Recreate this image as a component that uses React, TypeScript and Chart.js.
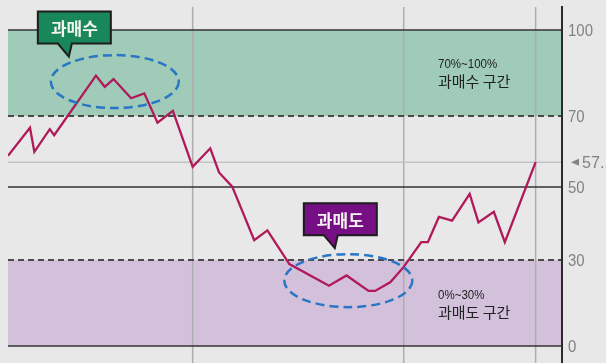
import React, { useEffect, useRef } from 'react';
import { Chart, registerables, LinearScale } from 'chart.js';

Chart.register(...registerables);

// ---------------- data ----------------
const days = [0, 5, 6, 9.5, 10.5, 20, 22, 24, 28, 31, 34, 37.5, 42, 46, 48, 51, 56, 59, 64, 73, 77, 82, 83.5, 87, 90, 94, 95.5, 98, 101, 105, 107, 110.5, 113, 120];
const rsiValues = [58.8, 66.7, 59.9, 66.3, 64.6, 84.1, 80.2, 82.9, 76.2, 77.9, 68.1, 71.8, 55.7, 60.9, 54.1, 50.1, 35.4, 38.1, 28.6, 21.0, 24.6, 19.2, 19.2, 22.3, 27.6, 34.9, 34.9, 41.8, 40.8, 48.1, 40.3, 43.2, 34.9, 57.0];
const yTicks = [0, 30, 50, 70, 100];
const monthGuides = [42, 90, 120];
const solidLevels = [100, 50, 0];
const dashedLevels = [70, 30];
const lastValue = 57.0;
const lastLabel = '57.1';
const overboughtZone = [70, 100];
const oversoldZone = [0, 30];
const overboughtText = ['70%~100%', '과매수 구간'];
const oversoldText = ['0%~30%', '과매도 구간'];
const peakCallout = { day: 24.3, value: 82, text: '과매수' };
const troughCallout = { day: 77.4, value: 22.8, text: '과매도' };
const zoneTextDay = 97.8;

// ---------------- axis geometry (non-linear RSI axis) ----------------
const STOP_VALUES = [0, 30, 50, 70, 100];
const STOP_POS = [0.0478, 0.2893, 0.4944, 0.6938, 0.9354];

function toDecimal(v: number) {
  let i = 0;
  while (i < STOP_VALUES.length - 2 && v > STOP_VALUES[i + 1]) i++;
  const v0 = STOP_VALUES[i], v1 = STOP_VALUES[i + 1];
  const p0 = STOP_POS[i], p1 = STOP_POS[i + 1];
  return p0 + ((v - v0) / (v1 - v0)) * (p1 - p0);
}
function fromDecimal(d: number) {
  let i = 0;
  while (i < STOP_POS.length - 2 && d > STOP_POS[i + 1]) i++;
  const v0 = STOP_VALUES[i], v1 = STOP_VALUES[i + 1];
  const p0 = STOP_POS[i], p1 = STOP_POS[i + 1];
  return v0 + ((d - p0) / (p1 - p0)) * (v1 - v0);
}

class PiecewiseScale extends LinearScale {
  static id = 'piecewise';
  static defaults = {};
  getPixelForValue(value: any) {
    if (value === null || value === undefined || isNaN(value)) return NaN;
    return this.getPixelForDecimal(toDecimal(+value));
  }
  getValueForPixel(pixel: number) {
    return fromDecimal(this.getDecimalForPixel(pixel));
  }
}
Chart.register(PiecewiseScale);

// ---------------- styles ----------------
const BG = '#e8e8e8';
const GREEN_BAND = '#9fcbb8';
const PURPLE_BAND = '#d3c1db';
const LINE_COLOR = '#b0195a';
const SANS = '"Liberation Sans", Arial, sans-serif';
const KR = '"Noto Sans CJK KR", "Noto Sans", sans-serif';
const AXIS_GREY = '#828282';

function hLine(ctx: CanvasRenderingContext2D, x1: number, x2: number, y: number) {
  ctx.beginPath();
  ctx.moveTo(x1, y);
  ctx.lineTo(x2, y);
  ctx.stroke();
}

function narrowText(ctx: CanvasRenderingContext2D, text: string, x: number, y: number, sx: number) {
  ctx.save();
  ctx.translate(x, y);
  ctx.scale(sx, 1);
  ctx.fillText(text, 0, 0);
  ctx.restore();
}

function drawCallout(ctx: CanvasRenderingContext2D, left: number, top: number, fill: string, text: string) {
  const w = 73, h = 32;
  ctx.save();
  ctx.beginPath();
  ctx.moveTo(left, top);
  ctx.lineTo(left + w, top);
  ctx.lineTo(left + w, top + h);
  ctx.lineTo(left + 34, top + h);
  ctx.lineTo(left + 31, top + h + 13);
  ctx.lineTo(left + 20, top + h);
  ctx.lineTo(left, top + h);
  ctx.closePath();
  ctx.fillStyle = fill;
  ctx.fill();
  ctx.lineWidth = 2;
  ctx.strokeStyle = '#1d1d1d';
  ctx.lineJoin = 'miter';
  ctx.stroke();
  ctx.fillStyle = '#f4f4ee';
  ctx.font = `bold 17px ${KR}`;
  ctx.textAlign = 'center';
  ctx.textBaseline = 'middle';
  ctx.fillText(text, left + w / 2, top + h / 2 + 1);
  ctx.restore();
}

function drawEllipse(ctx: CanvasRenderingContext2D, cx: number, cy: number) {
  ctx.save();
  ctx.beginPath();
  ctx.ellipse(cx, cy, 64, 26.5, 0, 0, Math.PI * 2);
  ctx.setLineDash([9, 5]);
  ctx.lineWidth = 2.5;
  ctx.strokeStyle = '#2a76c6';
  ctx.stroke();
  ctx.restore();
}

function drawZoneText(ctx: CanvasRenderingContext2D, x: number, yCenter: number, lines: string[]) {
  ctx.save();
  ctx.fillStyle = '#222222';
  ctx.textAlign = 'left';
  ctx.textBaseline = 'middle';
  ctx.font = `12px ${SANS}`;
  narrowText(ctx, lines[0], x, yCenter - 8, 0.96);
  ctx.font = `15px ${KR}`;
  ctx.fillText(lines[1], x, yCenter + 8);
  ctx.restore();
}

const rsiDecor = {
  id: 'rsiDecor',
  beforeDraw(chart: any) {
    const { ctx, chartArea: a, scales } = chart;
    const x = scales.x, y = scales.y;
    ctx.save();
    ctx.fillStyle = BG;
    ctx.fillRect(0, 0, chart.width, chart.height);

    const band = (zone: number[], color: string) => {
      const t = y.getPixelForValue(zone[1]);
      const b = y.getPixelForValue(zone[0]);
      ctx.fillStyle = color;
      ctx.fillRect(a.left, t, a.right - a.left, b - t);
    };
    band(overboughtZone, GREEN_BAND);
    band(oversoldZone, PURPLE_BAND);

    ctx.strokeStyle = '#adadad';
    ctx.lineWidth = 1.5;
    for (const d of monthGuides) {
      const px = x.getPixelForValue(d);
      ctx.beginPath();
      ctx.moveTo(px, a.top);
      ctx.lineTo(px, a.bottom);
      ctx.stroke();
    }

    ctx.strokeStyle = '#c3c3c3';
    ctx.lineWidth = 1.5;
    hLine(ctx, a.left, a.right, y.getPixelForValue(lastValue));

    ctx.strokeStyle = '#333333';
    ctx.lineWidth = 1.6;
    for (const v of solidLevels) hLine(ctx, a.left, a.right, y.getPixelForValue(v));

    ctx.strokeStyle = '#4a4a4a';
    ctx.lineWidth = 2;
    ctx.setLineDash([6, 4]);
    for (const v of dashedLevels) hLine(ctx, a.left, a.right, y.getPixelForValue(v));
    ctx.restore();
  },
  afterDatasetsDraw(chart: any) {
    const { ctx, chartArea: a, scales } = chart;
    const x = scales.x, y = scales.y;

    const c1x = x.getPixelForValue(peakCallout.day), c1y = y.getPixelForValue(peakCallout.value);
    drawEllipse(ctx, c1x, c1y);
    drawCallout(ctx, c1x - 77, c1y - 70, '#18885a', peakCallout.text);

    const c2x = x.getPixelForValue(troughCallout.day), c2y = y.getPixelForValue(troughCallout.value);
    drawEllipse(ctx, c2x, c2y);
    drawCallout(ctx, c2x - 44.5, c2y - 77.5, '#760f84', troughCallout.text);

    const tx = x.getPixelForValue(zoneTextDay);
    drawZoneText(ctx, tx, (y.getPixelForValue(overboughtZone[0]) + y.getPixelForValue(overboughtZone[1])) / 2, overboughtText);
    drawZoneText(ctx, tx, (y.getPixelForValue(oversoldZone[0]) + y.getPixelForValue(oversoldZone[1])) / 2 + 1, oversoldText);

    // axis tick labels (narrow digits)
    ctx.save();
    ctx.fillStyle = AXIS_GREY;
    ctx.font = `17px ${SANS}`;
    ctx.textAlign = 'left';
    ctx.textBaseline = 'middle';
    for (const t of y.ticks) {
      narrowText(ctx, String(t.value), a.right + 6, y.getPixelForValue(t.value) + 1, 0.88);
    }
    // last value marker
    const ly = y.getPixelForValue(lastValue);
    ctx.beginPath();
    ctx.moveTo(a.right + 9, ly);
    ctx.lineTo(a.right + 17, ly - 3.5);
    ctx.lineTo(a.right + 17, ly + 3.5);
    ctx.closePath();
    ctx.fill();
    narrowText(ctx, lastLabel, a.right + 20, ly + 1, 0.95);
    ctx.restore();
  },
};

export default function App() {
  const ref = useRef<HTMLCanvasElement | null>(null);
  useEffect(() => {
    document.body.style.margin = '0';
    const canvas = ref.current;
    if (!canvas) return;
    const chart = new Chart(canvas, {
      type: 'line',
      data: {
        datasets: [
          {
            data: days.map((d, i) => ({ x: d, y: rsiValues[i] })),
            borderColor: LINE_COLOR,
            borderWidth: 2.3,
            pointRadius: 0,
            tension: 0,
            fill: false,
          },
        ],
      },
      options: {
        animation: false,
        responsive: false,
        devicePixelRatio: 1,
        layout: { padding: { left: 8, top: 7, right: 0, bottom: 0 } },
        plugins: { legend: { display: false }, tooltip: { enabled: false } },
        scales: {
          x: { type: 'linear', min: 0, max: 126, display: false },
          y: {
            type: 'piecewise' as any,
            position: 'right',
            min: 0,
            max: 100,
            afterBuildTicks: (s: any) => {
              s.ticks = yTicks.map((v) => ({ value: v }));
            },
            afterFit: (s: any) => {
              s.width = 44;
              s.paddingTop = 0;
              s.paddingBottom = 0;
            },
            grid: { display: false, drawTicks: false },
            border: { display: true, color: '#2a2a2a', width: 2 },
            ticks: { display: false, autoSkip: false },
          },
        },
      } as any,
      plugins: [rsiDecor],
    });
    return () => chart.destroy();
  }, []);
  return (
    <div style={{ width: 606, height: 363 }}>
      <canvas ref={ref} width={606} height={363} style={{ display: 'block' }} />
    </div>
  );
}
